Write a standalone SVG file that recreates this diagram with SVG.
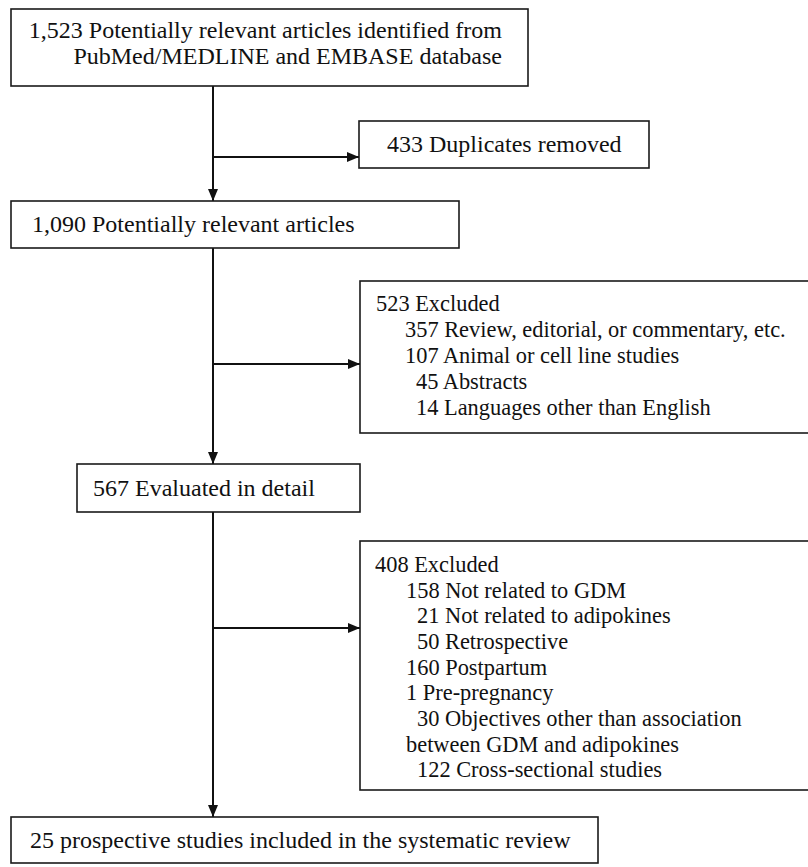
<svg xmlns="http://www.w3.org/2000/svg" width="808" height="867" viewBox="0 0 808 867">
<defs>
<style>
.box{fill:#fff;stroke:#1a1a1a;stroke-width:1.6}
.t{font-family:"Liberation Serif","Times New Roman",serif;font-size:24px;fill:#111}
.s{font-family:"Liberation Serif","Times New Roman",serif;font-size:22.4px;fill:#111}
.c{stroke:#111;stroke-width:2;fill:none}
</style>
<marker id="ah" markerWidth="12" markerHeight="10" refX="12" refY="5" orient="auto" markerUnits="userSpaceOnUse">
<path d="M0,0 L12,5 L0,10 Z" fill="#111"/>
</marker>
</defs>
<rect width="808" height="867" fill="#fff"/>
<g id="connectors">
<line class="c" x1="213" y1="86" x2="213" y2="201" marker-end="url(#ah)"/>
<line class="c" x1="213" y1="157" x2="359" y2="157" marker-end="url(#ah)"/>
<line class="c" x1="213" y1="248" x2="213" y2="464" marker-end="url(#ah)"/>
<line class="c" x1="213" y1="364" x2="360" y2="364" marker-end="url(#ah)"/>
<line class="c" x1="213" y1="512" x2="213" y2="817" marker-end="url(#ah)"/>
<line class="c" x1="213" y1="628" x2="360" y2="628" marker-end="url(#ah)"/>
</g>
<g id="identified">
<rect class="box" x="11" y="9" width="517" height="77"/>
<text class="t" x="502" y="38" text-anchor="end">1,523 Potentially relevant articles identified from</text>
<text class="t" x="502" y="64" text-anchor="end">PubMed/MEDLINE and EMBASE database</text>
</g>
<g id="duplicates">
<rect class="box" x="359" y="121" width="290" height="47"/>
<text class="t" x="387" y="152">433 Duplicates removed</text>
</g>
<g id="relevant">
<rect class="box" x="11" y="201" width="448" height="47"/>
<text class="t" x="32" y="232">1,090 Potentially relevant articles</text>
</g>
<g id="excluded1">
<rect class="box" x="360" y="281" width="449" height="152"/>
<text class="s" x="376" y="311">523 Excluded</text>
<text class="s" x="405" y="337">357 Review, editorial, or commentary, etc.</text>
<text class="s" x="405" y="363">107 Animal or cell line studies</text>
<text class="s" x="416" y="389">45 Abstracts</text>
<text class="s" x="416" y="415">14 Languages other than English</text>
</g>
<g id="evaluated">
<rect class="box" x="77" y="464" width="283" height="48"/>
<text class="t" x="93" y="496">567 Evaluated in detail</text>
</g>
<g id="excluded2">
<rect class="box" x="360" y="541" width="449" height="249"/>
<text class="s" x="375" y="572">408 Excluded</text>
<text class="s" x="406" y="598">158 Not related to GDM</text>
<text class="s" x="417" y="623">21 Not related to adipokines</text>
<text class="s" x="417" y="649">50 Retrospective</text>
<text class="s" x="406" y="675">160 Postpartum</text>
<text class="s" x="406" y="700">1 Pre-pregnancy</text>
<text class="s" x="417" y="726">30 Objectives other than association</text>
<text class="s" x="406" y="752">between GDM and adipokines</text>
<text class="s" x="417" y="777">122 Cross-sectional studies</text>
</g>
<g id="included">
<rect class="box" x="11" y="817" width="587" height="46"/>
<text class="t" x="30" y="848">25 prospective studies included in the systematic review</text>
</g>
</svg>
